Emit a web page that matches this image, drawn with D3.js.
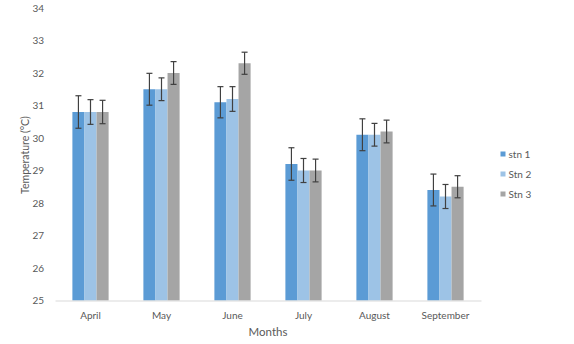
<!DOCTYPE html>
<html><head><meta charset="utf-8">
<script src="https://cdn.jsdelivr.net/npm/d3@7"></script>
<style>body{margin:0;background:#fff;} svg{display:block;} text{font-family:Lato, "Liberation Sans", sans-serif;fill:#595959;}</style>
</head><body><div id="chart"></div>
<script>
const months = ["April","May","June","July","August","September"];
const seriesNames = ["stn 1","Stn 2","Stn 3"];
const stn1 = [30.8, 31.5, 31.1, 29.2, 30.1, 28.4];
const stn2 = [30.8, 31.5, 31.2, 29.0, 30.1, 28.2];
const stn3 = [30.8, 32.0, 32.3, 29.0, 30.2, 28.5];
const err1 = [0.5, 0.49, 0.48, 0.5, 0.49, 0.49];
const err2 = [0.38, 0.35, 0.38, 0.37, 0.35, 0.37];
const err3 = [0.36, 0.35, 0.34, 0.35, 0.35, 0.34];
const yTicks = [25,26,27,28,29,30,31,32,33,34];
const colors = ["#5B9BD5","#9DC3E6","#A5A5A5"];

const W = 574, H = 344;
const svg = d3.select("#chart").append("svg").attr("width", W).attr("height", H);
const m = {left:55, right:93, top:8, bottom:43.5};
const x = d3.scaleBand().domain(months).range([m.left, W - m.right]).paddingInner(0.49).paddingOuter(0.245);
const y = d3.scaleLinear().domain([25,34]).range([H - m.bottom, m.top]);
const xs = d3.scaleBand().domain(seriesNames).range([0, x.bandwidth()]);

const values = [stn1, stn2, stn3];
const errs = [err1, err2, err3];
const data = [];
seriesNames.forEach((s,i)=>months.forEach((mo,j)=>data.push({s, i, mo, v: values[i][j], e: errs[i][j]})));

// y tick labels (no gridlines)
const yAxis = d3.axisLeft(y).tickValues(yTicks).tickSize(0).tickPadding(11);
const gy = svg.append("g").attr("transform", `translate(${m.left},0)`).call(yAxis);
gy.select(".domain").remove();
gy.selectAll("text").style("font-size","10px").style("fill","#595959").style("font-family","Lato, sans-serif");

// bars
svg.append("g").selectAll("rect").data(data).join("rect")
  .attr("x", d => x(d.mo) + xs(d.s))
  .attr("width", xs.bandwidth())
  .attr("y", d => y(d.v))
  .attr("height", d => y(25) - y(d.v))
  .attr("fill", d => colors[d.i]);

// error bars
const eg = svg.append("g").attr("stroke","#404040").attr("stroke-width",1.2);
data.forEach(d => {
  const cx = x(d.mo) + xs(d.s) + xs.bandwidth()/2;
  eg.append("line").attr("x1",cx).attr("x2",cx).attr("y1",y(d.v+d.e)).attr("y2",y(d.v-d.e));
  eg.append("line").attr("x1",cx-3).attr("x2",cx+3).attr("y1",y(d.v+d.e)).attr("y2",y(d.v+d.e));
  eg.append("line").attr("x1",cx-3).attr("x2",cx+3).attr("y1",y(d.v-d.e)).attr("y2",y(d.v-d.e));
});

// x axis
const xAxis = d3.axisBottom(x).tickSize(0).tickPadding(11);
const gx = svg.append("g").attr("transform", `translate(0,${y(25)})`).call(xAxis);
gx.select(".domain").attr("stroke","#D9D9D9").attr("stroke-width",1);
gx.selectAll("text").style("font-size","10px").style("fill","#595959").style("font-family","Lato, sans-serif");

// axis titles
svg.append("text").attr("x", 268).attr("y", 336).attr("text-anchor","middle").style("font-size","11.5px").text("Months");
svg.append("text").attr("transform","translate(29,155) rotate(-90)").attr("text-anchor","middle").style("font-size","10.5px").text("Temperature (°C)");

// legend
const lg = svg.append("g");
seriesNames.forEach((s,i)=>{
  const yy = 154 + i*20;
  lg.append("rect").attr("x",500.5).attr("y",yy-2.5).attr("width",5).attr("height",5).attr("fill",colors[i]);
  lg.append("text").attr("x",508.5).attr("y",yy).attr("dy","0.35em").style("font-size","10px").text(s);
});
</script></body></html>
